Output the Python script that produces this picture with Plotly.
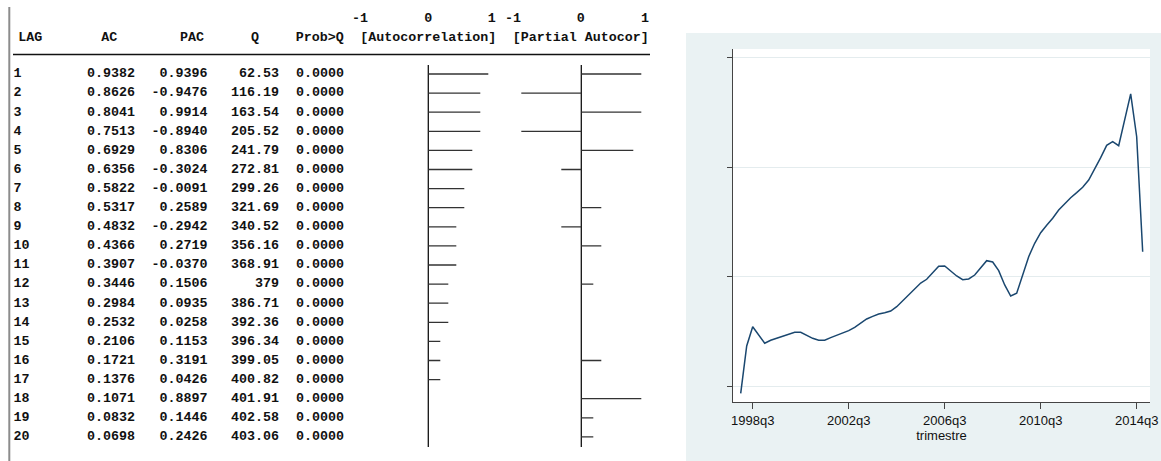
import plotly.graph_objects as go

# ---- corrgram table ----
lags = list(range(1, 21))
ac = [0.9382, 0.8626, 0.8041, 0.7513, 0.6929, 0.6356, 0.5822, 0.5317, 0.4832, 0.4366,
      0.3907, 0.3446, 0.2984, 0.2532, 0.2106, 0.1721, 0.1376, 0.1071, 0.0832, 0.0698]
pac = [0.9396, -0.9476, 0.9914, -0.8940, 0.8306, -0.3024, -0.0091, 0.2589, -0.2942, 0.2719,
       -0.0370, 0.1506, 0.0935, 0.0258, 0.1153, 0.3191, 0.0426, 0.8897, 0.1446, 0.2426]
q_stat = [62.53, 116.19, 163.54, 205.52, 241.79, 272.81, 299.26, 321.69, 340.52, 356.16,
          368.91, 379, 386.71, 392.36, 396.34, 399.05, 400.82, 401.91, 402.58, 403.06]
prob_q = [0.0000, 0.0000, 0.0000, 0.0000, 0.0000, 0.0000, 0.0000, 0.0000, 0.0000, 0.0000,
          0.0000, 0.0000, 0.0000, 0.0000, 0.0000, 0.0000, 0.0000, 0.0000, 0.0000, 0.0000]
header_labels = ["LAG", "AC", "PAC", "Q", "Prob>Q", "[Autocorrelation]", "[Partial Autocor]"]
scale_labels = ["-1", "0", "1", "-1", "0", "1"]

# ---- quarterly series ----
quarters = [f"{1998 + k // 4}q{k % 4 + 1}" for k in range(68)]
series = [93.3, 136.6, 154.2, 146.6, 139.1, 141.8, 143.6, 145.1, 147.3, 149.1,
          149.1, 146.4, 143.6, 141.8, 141.8, 144.2, 146.4, 148.2, 150.6, 153.7,
          157.9, 161.3, 163.7, 165.9, 167.0, 168.6, 172.5, 177.7, 183.2, 188.7,
          194.2, 197.6, 203.3, 209.5, 209.8, 205.5, 200.6, 197.2, 197.9, 201.5,
          208.6, 214.6, 213.4, 205.5, 192.4, 182.3, 184.8, 201.2, 218.3, 230.5,
          240.2, 247.0, 253.4, 261.0, 267.1, 272.2, 276.8, 281.7, 288.4, 298.2,
          308.8, 320.1, 323.4, 319.8, 343.9, 367.1, 328.0, 222.8]
x_ticks = ["1998q3", "2002q3", "2006q3", "2010q3", "2014q3"]
y_ticks = [100, 200, 300, 400]

W, H = 1161, 461
MONO = "Liberation Mono, Courier New, monospace"
SANS = "Liberation Sans, Arial, sans-serif"


def row_y(lag):
    return 74 + (lag - 1) * 19.1


def bar_end(v):
    # text-mode bar: whole character cells (8 per unit) plus half the axis cell
    n = int(abs(v) * 8)
    if n == 0:
        return None
    return (1 if v > 0 else -1) * (n + 0.5) / 8


def bar_segments(vals):
    xs, ys = [], []
    for lag, v in zip(lags, vals):
        e = bar_end(v)
        if e is None:
            continue
        xs += [0, e, None]
        ys += [row_y(lag), row_y(lag), None]
    return xs, ys


fig = go.Figure()
font_mono = dict(family=MONO, size=13.33, color="#111111", weight="bold")
rows_y = [row_y(l) for l in lags]

# table columns
fig.add_trace(go.Scatter(x=[13.5] * 20, y=rows_y, text=[str(l) for l in lags],
                         mode="text", textposition="middle right", textfont=font_mono,
                         xaxis="x", yaxis="y", hoverinfo="skip"))
for xr, vals, fmt in [(135, ac, "{:.4f}"), (207.5, pac, "{:.4f}"),
                      (279, q_stat, "{:.5g}"), (344, prob_q, "{:.4f}")]:
    fig.add_trace(go.Scatter(x=[xr] * 20, y=rows_y, text=[fmt.format(v) for v in vals],
                             mode="text", textposition="middle left", textfont=font_mono,
                             xaxis="x", yaxis="y", hoverinfo="skip"))

# header row and scale labels
fig.add_trace(go.Scatter(x=[30.3, 109.2, 192, 255, 319.7, 428.3, 580.8], y=[37.6] * 7,
                         text=header_labels, mode="text", textposition="middle center",
                         textfont=font_mono, xaxis="x", yaxis="y", hoverinfo="skip"))
fig.add_trace(go.Scatter(x=[360, 428.3, 491.7, 513, 580.7, 645], y=[18.3] * 6,
                         text=scale_labels, mode="text", textposition="middle center",
                         textfont=font_mono, xaxis="x", yaxis="y", hoverinfo="skip"))

# autocorrelation bars
for ax, vals in [("x2", ac), ("x3", pac)]:
    fig.add_trace(go.Scatter(x=[0, 0], y=[65, 447], mode="lines",
                             line=dict(color="#111111", width=1.3),
                             xaxis=ax, yaxis="y", hoverinfo="skip"))
    bx, by = bar_segments(vals)
    fig.add_trace(go.Scatter(x=bx, y=by, mode="lines", line=dict(color="#333333", width=1.3),
                             xaxis=ax, yaxis="y", hoverinfo="skip", connectgaps=False))

# time series
fig.add_trace(go.Scatter(x=quarters, y=series, mode="lines",
                         line=dict(color="#1A476F", width=1.5),
                         xaxis="x4", yaxis="y4", hoverinfo="skip"))

hidden = dict(visible=False, showgrid=False, zeroline=False, fixedrange=True, automargin=False)
fig.update_layout(
    width=W, height=H, margin=dict(l=0, r=0, t=0, b=0, autoexpand=False),
    paper_bgcolor="white", plot_bgcolor="rgba(0,0,0,0)", showlegend=False,
    xaxis=dict(domain=[0, 1], range=[0, W], anchor="y", **hidden),
    yaxis=dict(domain=[0, 1], range=[H, 0], anchor="x", **hidden),
    xaxis2=dict(domain=[364.3 / W, 492.3 / W], range=[-1, 1], anchor="y", **hidden),
    xaxis3=dict(domain=[517.3 / W, 645.3 / W], range=[-1, 1], anchor="y", **hidden),
    xaxis4=dict(domain=[733 / W, 1150 / W], anchor="y4", type="category",
                range=[-1.283, 68.22], tickvals=x_ticks, ticktext=x_ticks,
                ticks="outside", ticklen=6, tickwidth=1.2, tickcolor="#444444",
                showline=True, linecolor="#444444", linewidth=1.2,
                showgrid=False, zeroline=False, automargin=False,
                tickfont=dict(family=SANS, size=13, color="#111111"),
                title=dict(text="trimestre", standoff=1,
                           font=dict(family=SANS, size=13, color="#111111"))),
    yaxis4=dict(domain=[(H - 402) / H, (H - 49) / H], anchor="x4",
                range=[85.37, 408.2], tickvals=y_ticks, showticklabels=False,
                ticks="outside", ticklen=5, tickwidth=1.2, tickcolor="#444444",
                showline=True, linecolor="#444444", linewidth=1.2, automargin=False,
                showgrid=True, gridcolor="#E4ECEE", gridwidth=1, zeroline=False),
    shapes=[
        dict(type="rect", xref="paper", yref="paper", x0=686 / W, x1=1, y0=0, y1=(H - 33) / H,
             fillcolor="#EAF2F3", line=dict(width=0), layer="below"),
        dict(type="rect", xref="x4 domain", yref="y4 domain", x0=0, x1=1, y0=0, y1=1,
             fillcolor="white", line=dict(width=0), layer="below"),
        dict(type="line", xref="x", yref="y", x0=9.3, x1=9.3, y0=7, y1=H,
             line=dict(color="#8c8c8c", width=2)),
        dict(type="line", xref="x", yref="y", x0=13, x1=650, y0=54.5, y1=54.5,
             line=dict(color="#111111", width=1.3)),
    ],
)

fig.write_html("out.html")
